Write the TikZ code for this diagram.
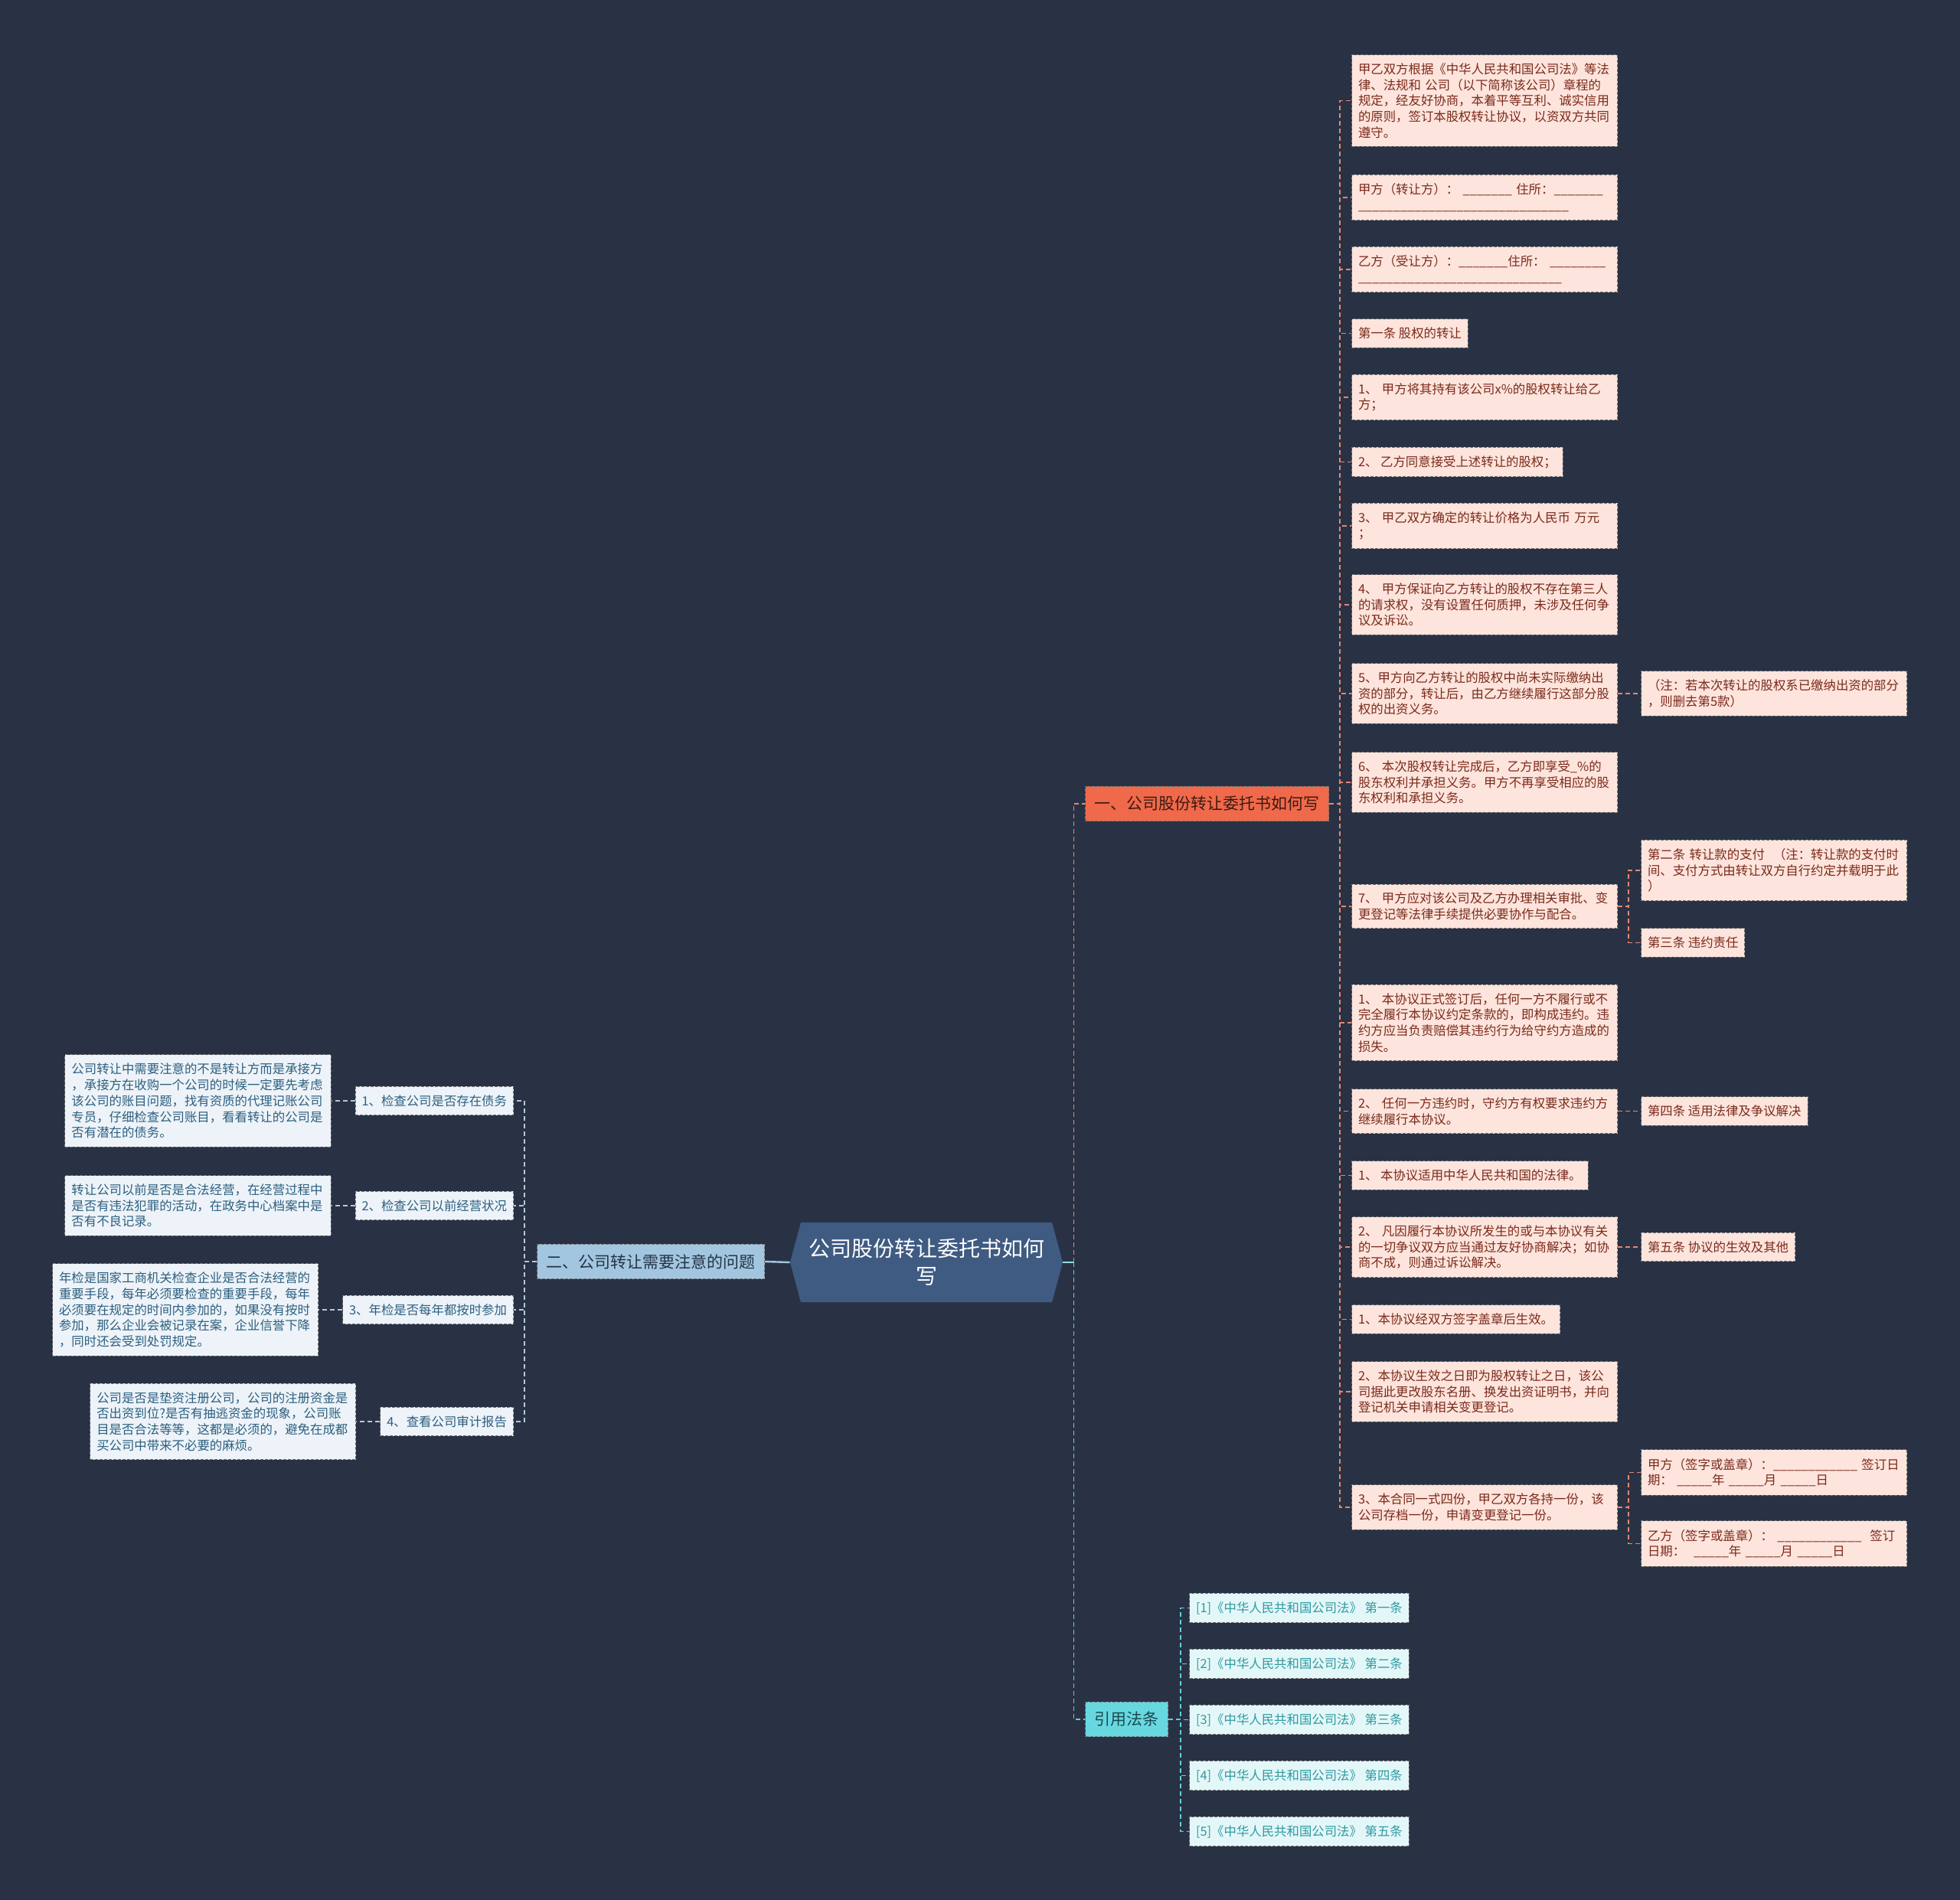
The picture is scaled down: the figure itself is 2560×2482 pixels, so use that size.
\documentclass[tikz,border=0pt]{standalone}
\usepackage{fontspec}
\setmainfont{Noto Sans CJK SC}
\usetikzlibrary{positioning,shapes.symbols}

\definecolor{bgnavy}{HTML}{293244}
\definecolor{pinkfill}{HTML}{FDE4DC}
\definecolor{pinktext}{HTML}{7B2A1B}
\definecolor{linkorange}{HTML}{E8866F}
\definecolor{onefill}{HTML}{F0694A}
\definecolor{onetext}{HTML}{3B1A12}
\definecolor{twofill}{HTML}{A3C6E0}
\definecolor{twotext}{HTML}{233445}
\definecolor{bluefill}{HTML}{EDF3F8}
\definecolor{bluetext}{HTML}{2C5F80}
\definecolor{linkblue}{HTML}{B7C7D5}
\definecolor{threefill}{HTML}{67D8E0}
\definecolor{threetext}{HTML}{1B4A4F}
\definecolor{citefill}{HTML}{E4F7F8}
\definecolor{citetext}{HTML}{2E9AA2}
\definecolor{linkcyan}{HTML}{62CFD8}
\definecolor{rootfill}{HTML}{3F5B82}

\newcommand{\blanks}[1]{\foreach\j in {1,...,#1}{\_}}

\begin{document}
\begin{tikzpicture}[
    x=0.5pt, y=-0.5pt,
    leaf/.style={draw=black!55, line width=0.5pt, dash pattern=on 2pt off 1pt, align=left,
      font={\fontsize{8.2pt}{10.35pt}\selectfont}, inner xsep=4.25pt, inner ysep=5.5pt},
    wide/.style={text width=165pt},
    rleaf/.style={leaf, fill=pinkfill, text=pinktext, anchor=west},
    lleaf/.style={leaf, fill=bluefill, text=bluetext, anchor=east},
    cite/.style={leaf, fill=citefill, text=citetext, anchor=west},
    branch/.style={draw=black!55, line width=0.5pt, dash pattern=on 2pt off 1pt,
      font={\fontsize{10.5pt}{12pt}\selectfont}, inner xsep=6pt, inner ysep=6.5pt},
    rootbox/.style={signal, signal to=west and east, signal pointer angle=150, fill=rootfill,
      text=white, align=center, minimum width=178pt, minimum height=52pt,
      font={\fontsize{14pt}{18pt}\selectfont}},
    linkO/.style={draw=linkorange, line width=0.75pt, dash pattern=on 3pt off 2pt},
    linkB/.style={draw=linkblue, line width=0.75pt, dash pattern=on 3pt off 2pt},
    linkC/.style={draw=linkcyan, line width=0.75pt, dash pattern=on 3pt off 2pt},
    stub/.style={draw=linkcyan!70!white, line width=1.2pt}
]
\useasboundingbox (0,0) rectangle (2560,2482);
\fill[bgnavy] (0,0) rectangle (2560,2482);

% centre and main branches
\node[rootbox] (root) at (1210,1649) {公司股份转让委托书如何\\写};
\node[branch, fill=onefill, text=onetext, anchor=west] (b1) at (1417,1050) {一、公司股份转让委托书如何写};
\node[branch, fill=twofill, text=twotext, anchor=east] (b2) at (999,1648) {二、公司转让需要注意的问题};
\node[branch, fill=threefill, text=threetext, anchor=west] (b3) at (1417,2246) {引用法条};

% branch one
\node[rleaf, wide] (r1) at (1765,131.5) {甲乙双方根据《中华人民共和国公司法》等法\\律、法规和~公司（以下简称该公司）章程的\\规定，经友好协商，本着平等互利、诚实信用\\的原则，签订本股权转让协议，以资双方共同\\遵守。};
\node[rleaf, wide] (r2) at (1765,258) {甲方（转让方）：~\blanks{7}~住所：\blanks{7}\\\blanks{30}};
\node[rleaf, wide] (r3) at (1765,352) {乙方（受让方）：\blanks{7}住所：~\blanks{8}\\\blanks{29}};
\node[rleaf] (r4) at (1765,435.5) {第一条~股权的转让};
\node[rleaf, wide] (r5) at (1765,519) {1、~甲方将其持有该公司x\%的股权转让给乙\\方；};
\node[rleaf] (r6) at (1765,603.5) {2、~乙方同意接受上述转让的股权；};
\node[rleaf, wide] (r7) at (1765,687) {3、~甲乙双方确定的转让价格为人民币~万元\\；};
\node[rleaf, wide] (r8) at (1765,790) {4、~甲方保证向乙方转让的股权不存在第三人\\的请求权，没有设置任何质押，未涉及任何争\\议及诉讼。};
\node[rleaf, wide] (r9) at (1765,906) {5、甲方向乙方转让的股权中尚未实际缴纳出\\资的部分，转让后，由乙方继续履行这部分股\\权的出资义务。};
\node[rleaf, wide] (r10) at (1765,1022) {6、~本次股权转让完成后，乙方即享受\_\%的\\股东权利并承担义务。甲方不再享受相应的股\\东权利和承担义务。};
\node[rleaf, wide] (r11) at (1765,1184) {7、~甲方应对该公司及乙方办理相关审批、变\\更登记等法律手续提供必要协作与配合。};
\node[rleaf, wide] (r12) at (1765,1336) {1、~本协议正式签订后，任何一方不履行或不\\完全履行本协议约定条款的，即构成违约。违\\约方应当负责赔偿其违约行为给守约方造成的\\损失。};
\node[rleaf, wide] (r13) at (1765,1451.5) {2、~任何一方违约时，守约方有权要求违约方\\继续履行本协议。};
\node[rleaf] (r14) at (1765,1535.5) {1、~本协议适用中华人民共和国的法律。};
\node[rleaf, wide] (r15) at (1765,1629) {2、~凡因履行本协议所发生的或与本协议有关\\的一切争议双方应当通过友好协商解决；如协\\商不成，则通过诉讼解决。};
\node[rleaf] (r16) at (1765,1723.5) {1、本协议经双方签字盖章后生效。};
\node[rleaf, wide] (r17) at (1765,1818) {2、本协议生效之日即为股权转让之日，该公\\司据此更改股东名册、换发出资证明书，并向\\登记机关申请相关变更登记。};
\node[rleaf, wide] (r18) at (1765,1969) {3、本合同一式四份，甲乙双方各持一份，该\\公司存档一份，申请变更登记一份。};

% third level
\node[rleaf, wide, right=15pt of r9] (n9) {（注：若本次转让的股权系已缴纳出资的部分\\，则删去第5款）};
\node[rleaf, wide] (n11a) at (2143,1137) {第二条~转让款的支付~~（注：转让款的支付时\\间、支付方式由转让双方自行约定并载明于此\\）};
\node[rleaf] (n11b) at (2143,1231.5) {第三条~违约责任};
\node[rleaf, right=15pt of r13] (n13) {第四条~适用法律及争议解决};
\node[rleaf, right=15pt of r15] (n15) {第五条~协议的生效及其他};
\node[rleaf, wide] (n18a) at (2143,1923.5) {甲方（签字或盖章）：\blanks{12}~签订日\\期：~\blanks{5}年~\blanks{5}月~\blanks{5}日};
\node[rleaf, wide] (n18b) at (2143,2016.5) {乙方（签字或盖章）：~\blanks{12}~~签订\\日期：~~\blanks{5}年~\blanks{5}月~\blanks{5}日};

% branch two
\node[lleaf] (q1) at (671,1438) {1、检查公司是否存在债务};
\node[lleaf, wide, left=15.5pt of q1] (d1) {公司转让中需要注意的不是转让方而是承接方\\，承接方在收购一个公司的时候一定要先考虑\\该公司的账目问题，找有资质的代理记账公司\\专员，仔细检查公司账目，看看转让的公司是\\否有潜在的债务。};
\node[lleaf] (q2) at (671,1575) {2、检查公司以前经营状况};
\node[lleaf, wide, left=15.5pt of q2] (d2) {转让公司以前是否是合法经营，在经营过程中\\是否有违法犯罪的活动，在政务中心档案中是\\否有不良记录。};
\node[lleaf] (q3) at (671,1711) {3、年检是否每年都按时参加};
\node[lleaf, wide, left=15.5pt of q3] (d3) {年检是国家工商机关检查企业是否合法经营的\\重要手段，每年必须要检查的重要手段，每年\\必须要在规定的时间内参加的，如果没有按时\\参加，那么企业会被记录在案，企业信誉下降\\，同时还会受到处罚规定。};
\node[lleaf] (q4) at (671,1857) {4、查看公司审计报告};
\node[lleaf, wide, left=15.5pt of q4] (d4) {公司是否是垫资注册公司，公司的注册资金是\\否出资到位?是否有抽逃资金的现象，公司账\\目是否合法等等，这都是必须的，避免在成都\\买公司中带来不必要的麻烦。};

% branch three
\foreach \cn [count=\k] in {一,二,三,四,五}
  \node[cite] (c\k) at (1553,{2027.5+73*\k}) {[\k]《中华人民共和国公司法》~第\cn 条};

% connectors
\coordinate (rt) at ([xshift=7pt]root.east);
\draw[stub] (root.east) -- (rt);
\draw[stub, draw=twofill] (root.west) -- (b2.east);
\draw[linkO] (rt) |- (b1.west);
\draw[linkC] (rt) |- (b3.west);
\foreach \n in {r1,r2,r3,r4,r5,r6,r7,r8,r9,r10,r11,r12,r13,r14,r15,r16,r17,r18}
  \draw[linkO] (b1.east) -- ++(7pt,0) |- (\n.west);
\draw[linkO] (r9.east) -- (n9.west);
\draw[linkO] (r11.east) -- ++(7pt,0) |- (n11a.west);
\draw[linkO] (r11.east) -- ++(7pt,0) |- (n11b.west);
\draw[linkO] (r13.east) -- (n13.west);
\draw[linkO] (r15.east) -- (n15.west);
\draw[linkO] (r18.east) -- ++(7pt,0) |- (n18a.west);
\draw[linkO] (r18.east) -- ++(7pt,0) |- (n18b.west);
\foreach \k in {1,...,4} {
  \draw[linkB] (b2.west) -- ++(-8pt,0) |- (q\k.east);
  \draw[linkB] (q\k.west) -- (d\k.east);
}
\foreach \k in {1,...,5}
  \draw[linkC] (b3.east) -- ++(8pt,0) |- (c\k.west);
\end{tikzpicture}
\end{document}
